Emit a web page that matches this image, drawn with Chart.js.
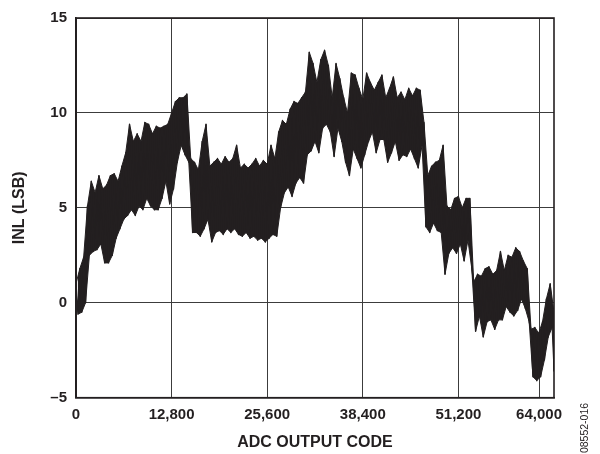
<!DOCTYPE html>
<html><head><meta charset="utf-8">
<script src="https://cdn.jsdelivr.net/npm/chart.js@4.4.1/dist/chart.umd.min.js"></script>
<style>html,body{margin:0;padding:0;background:#fff;}#wrap{width:600px;height:454px;}</style>
</head><body><div id="wrap"><canvas id="c" width="600" height="454"></canvas></div>
<script>
// INL envelope, one sample every 512 codes (0 .. 64000)
const sampleStep = 512;
const inlHigh = [
 1.0,1.8,2.4,5.1,6.4,5.8,6.7,6.0,6.2,6.7,6.8,6.4,7.2,7.9,9.4,8.5,8.9,8.5,9.5,9.4,
 8.9,9.3,9.2,9.3,9.4,10.0,10.6,10.8,10.8,11.0,7.6,7.4,7.0,8.5,9.4,7.2,7.4,7.6,7.3,7.7,
 7.4,7.6,8.3,7.1,7.3,7.1,7.3,7.6,7.2,7.5,7.3,8.3,7.6,9.0,9.6,9.4,10.2,10.6,10.5,10.8,
 11.1,13.2,12.6,11.6,12.8,13.3,12.5,10.8,12.6,11.8,10.8,10.0,12.1,12.0,11.3,10.7,12.1,11.6,11.2,11.6,
 12.0,10.8,11.3,11.9,10.8,11.1,10.7,11.3,10.9,11.3,11.2,9.5,6.7,7.2,7.4,7.5,8.3,5.1,4.9,5.5,
 5.6,5.0,5.5,5.5,1.1,1.5,1.4,1.8,1.9,1.5,1.7,2.7,1.7,2.5,2.4,2.9,2.7,2.2,1.8,-1.4,
 -1.3,-1.6,-1.0,0.2,1.0,-0.5
];
const inlLow = [
 -0.6,-0.5,0.0,2.5,2.7,2.8,3.1,2.1,2.1,2.5,3.4,3.9,4.4,4.6,4.9,4.6,5.1,4.9,5.5,5.1,
 4.9,4.9,5.5,6.4,5.2,6.0,7.4,8.3,7.8,7.4,3.7,3.7,3.5,3.9,4.4,3.2,3.7,3.8,3.6,3.9,
 3.7,3.9,3.6,3.5,3.7,3.4,3.5,3.3,3.4,3.2,3.4,3.6,3.5,5.0,5.8,6.1,5.6,6.3,6.6,6.3,
 7.8,8.0,8.5,7.9,9.2,9.4,9.0,7.7,9.2,8.5,7.4,6.7,8.1,7.6,7.1,7.8,8.5,9.0,7.9,8.6,
 8.6,7.4,7.9,8.5,7.5,7.8,7.7,8.1,7.6,7.1,8.3,4.0,3.7,4.2,3.8,3.7,1.5,2.6,2.9,2.6,
 3.1,2.2,3.3,1.8,-1.5,-0.7,-1.8,-1.0,-0.9,-1.4,-0.9,-0.9,-0.2,-0.5,-0.7,-0.4,0.2,-0.3,-1.0,-3.9,
 -4.1,-3.9,-3.0,-1.8,-1.3,-3.6
];
const xTickValues = [0, 12800, 25600, 38400, 51200, 62000];
const xTickLabels = ['0', '12,800', '25,600', '38,400', '51,200', '64,000'];
const yTickValues = [-5, 0, 5, 10, 15];
const yTickLabels = ['\u20135', '0', '5', '10', '15'];
const xTitle = 'ADC OUTPUT CODE';
const yTitle = 'INL (LSB)';
const figureNote = '08552-016';

const highPts = [], lowPts = [], tracePts = [];
inlHigh.forEach((h, i) => {
  const code = i * sampleStep;
  const lowCode = i < inlHigh.length - 1 ? code + sampleStep / 2 : code;
  highPts.push({x: code, y: h});
  lowPts.push({x: lowCode, y: inlLow[i]});
  tracePts.push({x: code, y: h}, {x: lowCode, y: inlLow[i]});
});

const INK = '#231f20';
const FAMILY = '"Liberation Sans", Arial, Helvetica, sans-serif';

const framePlugin = {
  id: 'frame',
  afterDatasetsDraw(chart) {
    const {ctx, chartArea: a} = chart;
    ctx.save();
    ctx.strokeStyle = INK;
    ctx.lineWidth = 1.6;
    ctx.strokeRect(a.left, a.top, a.right - a.left, a.bottom - a.top);
    ctx.restore();
  }
};
const notePlugin = {
  id: 'note',
  afterDraw(chart) {
    const ctx = chart.ctx;
    ctx.save();
    ctx.translate(585, 428);
    ctx.rotate(-Math.PI / 2);
    ctx.fillStyle = INK;
    ctx.font = '10.5px ' + FAMILY;
    ctx.textAlign = 'center';
    ctx.textBaseline = 'middle';
    ctx.fillText(figureNote, 0, 0);
    ctx.restore();
  }
};

new Chart(document.getElementById('c'), {
  type: 'line',
  data: {datasets: [
    {data: tracePts, borderColor: INK, borderWidth: 1.4, borderJoinStyle: 'round', pointRadius: 0, tension: 0, fill: false},
    {data: highPts, borderColor: INK, borderWidth: 1, pointRadius: 0, tension: 0, fill: '+1', backgroundColor: INK},
    {data: lowPts, borderColor: INK, borderWidth: 1, pointRadius: 0, tension: 0, fill: false}
  ]},
  options: {
    responsive: false,
    animation: false,
    layout: {padding: {left: 0, right: 46, top: 15, bottom: 0}},
    plugins: {legend: {display: false}, tooltip: {enabled: false}, filler: {propagate: false}},
    scales: {
      x: {
        type: 'linear', min: 0, max: 64000,
        afterBuildTicks: s => { s.ticks = xTickValues.map(v => ({value: v})); },
        afterFit: s => { s.height = 56.3; },
        grid: {color: '#3c3c3c', lineWidth: 1, drawTicks: false},
        border: {display: true, color: INK, width: 1.6},
        ticks: {padding: 8, color: INK, autoSkip: false, maxRotation: 0,
          font: {family: FAMILY, size: 15, weight: 'bold'},
          callback: (v, i) => xTickLabels[i]},
        title: {display: true, text: xTitle, color: INK,
          font: {family: FAMILY, size: 16, weight: 'bold'}, padding: {top: 0, bottom: 2}}
      },
      y: {
        min: -5, max: 15,
        afterBuildTicks: s => { s.ticks = yTickValues.map(v => ({value: v})); },
        afterFit: s => { s.width = 76; },
        grid: {color: '#3c3c3c', lineWidth: 1, drawTicks: false},
        border: {display: true, color: INK, width: 1.6},
        ticks: {padding: 9, color: INK,
          font: {family: FAMILY, size: 15, weight: 'bold'},
          callback: (v, i) => yTickLabels[i]},
        title: {display: true, text: yTitle, color: INK,
          font: {family: FAMILY, size: 16, weight: 'bold'}, padding: {top: 10.4, bottom: 0}}
      }
    }
  },
  plugins: [framePlugin, notePlugin]
});
</script></body></html>
